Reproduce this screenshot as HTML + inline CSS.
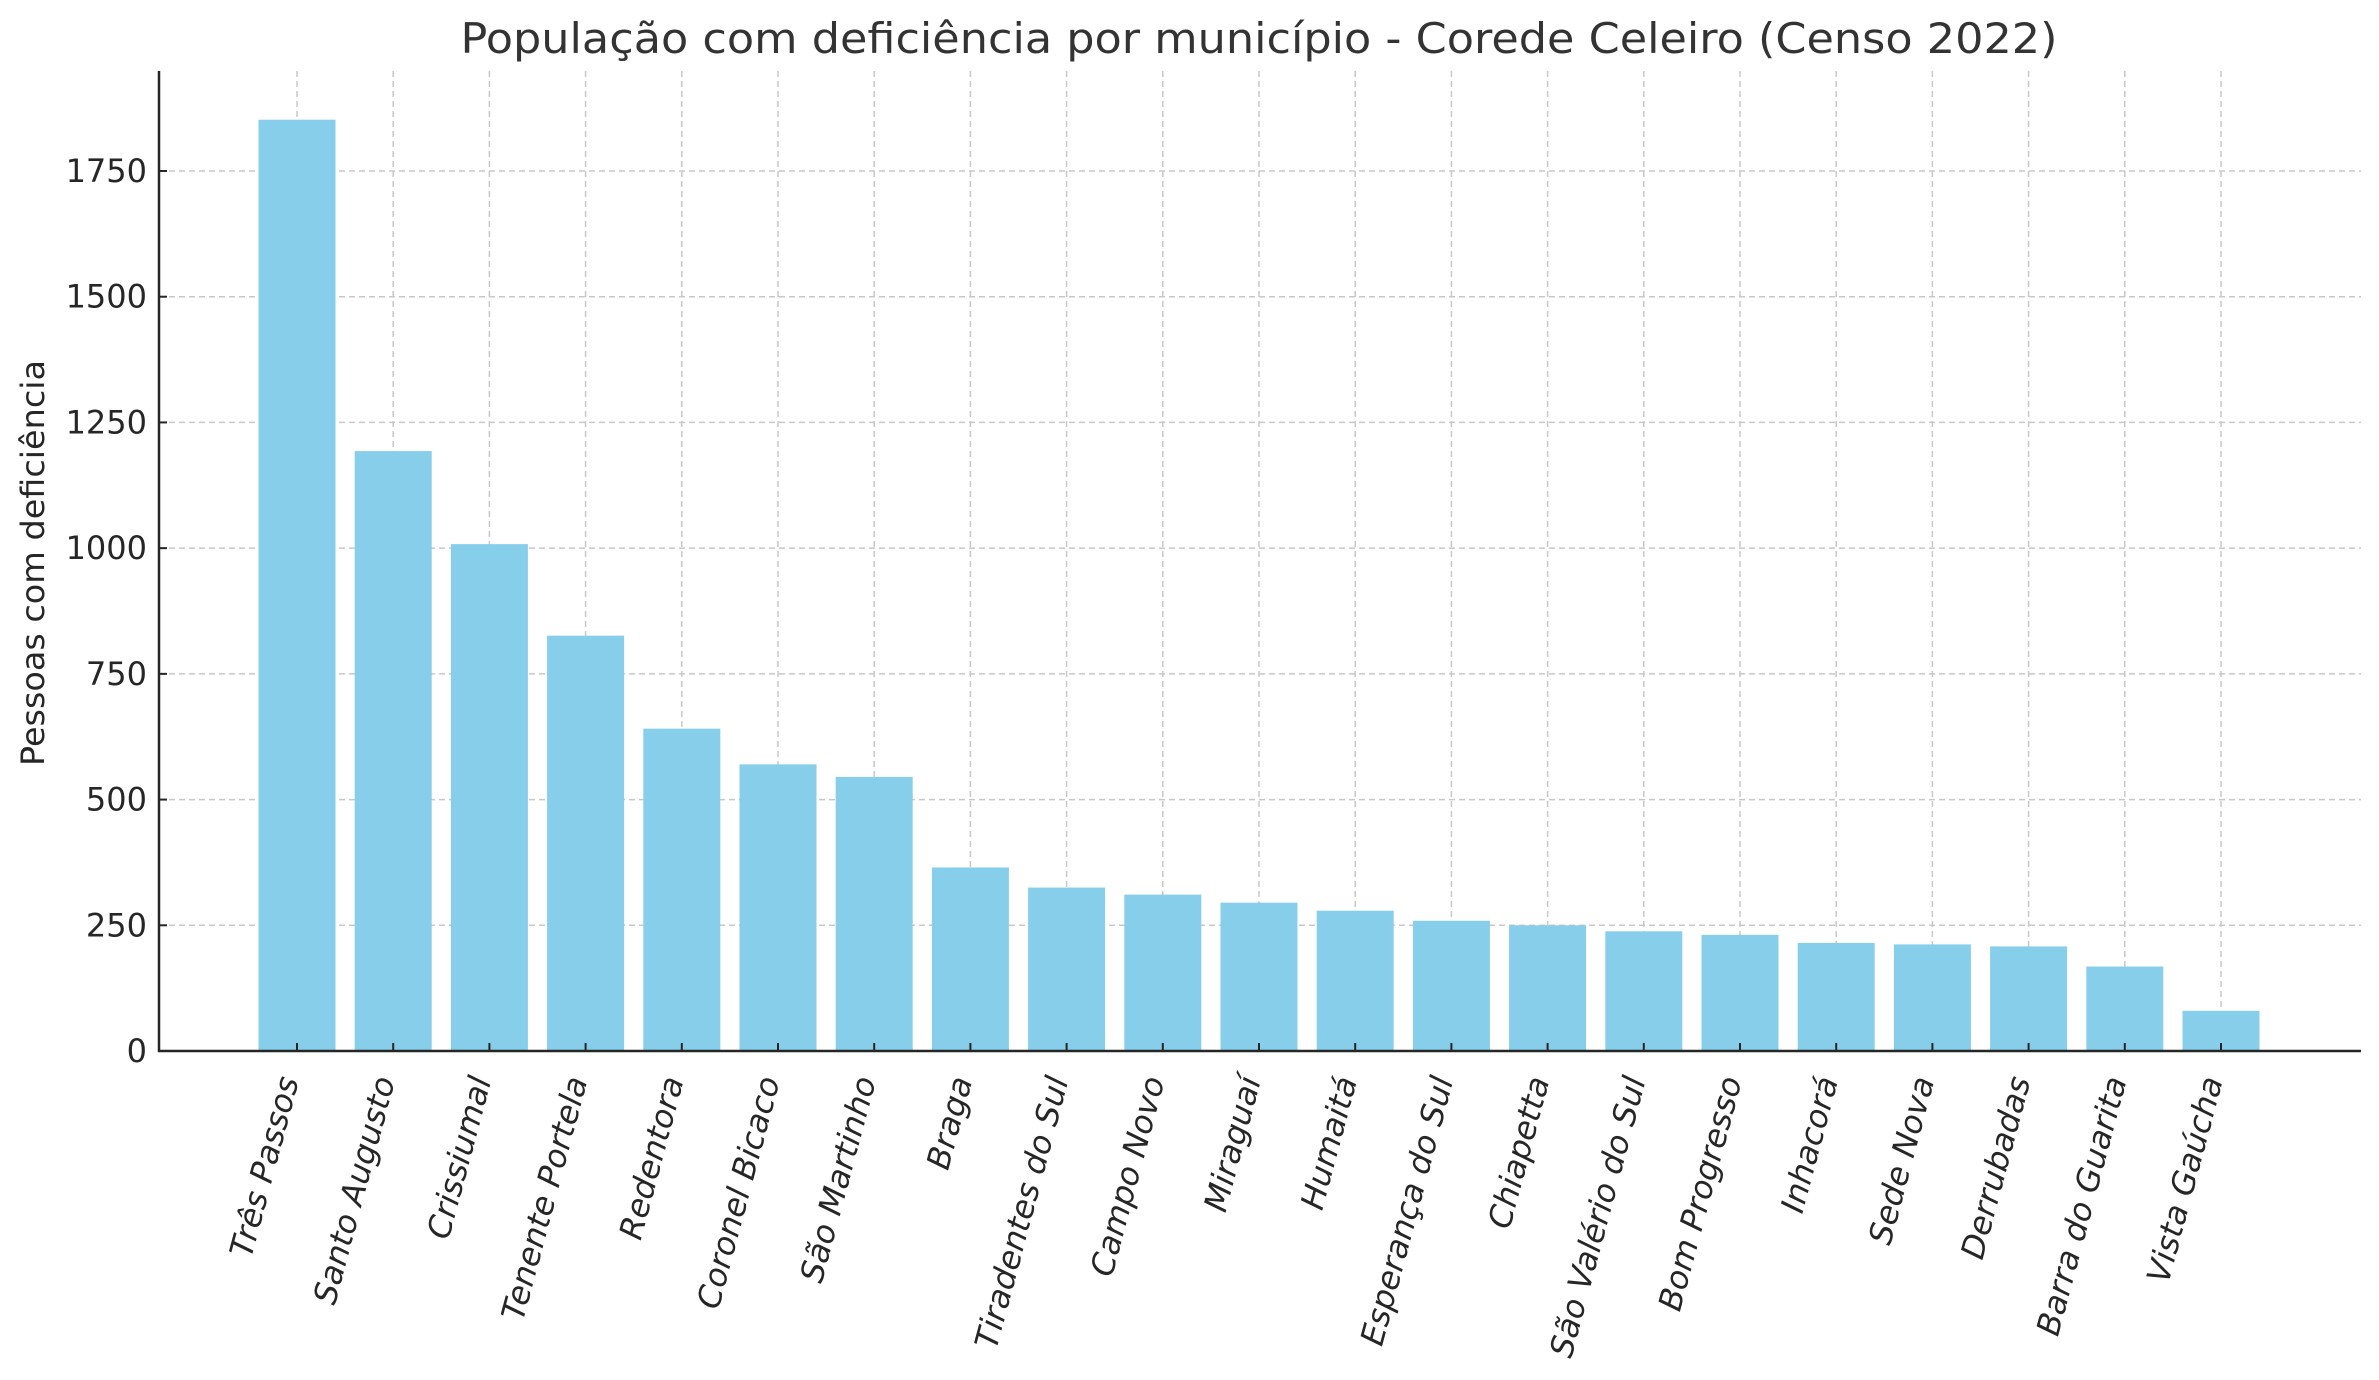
<!DOCTYPE html>
<html><head><meta charset="utf-8"><style>html,body{margin:0;padding:0;background:#fff}svg{display:block}</style></head>
<body>
<svg xmlns="http://www.w3.org/2000/svg" width="2379" height="1380" viewBox="0 0 2379 1380" font-family="DejaVu Sans, Liberation Sans, sans-serif">
<rect width="2379" height="1380" fill="#fff"/>
<g id="grid" stroke="#c8c8c8" stroke-width="1.5" stroke-dasharray="6,4">
</g>
<g id="bars" fill="#87ceeb"></g>
<g id="axes"></g>
<g id="labels" fill="#262626" font-size="32" font-style="italic"></g>
<text x="1259" y="53" text-anchor="middle" font-size="42" fill="#333" textLength="1597" lengthAdjust="spacingAndGlyphs">População com deficiência por município - Corede Celeiro (Censo 2022)</text>
<text transform="translate(44,563) rotate(-90)" text-anchor="middle" font-size="32" fill="#262626" textLength="406" lengthAdjust="spacingAndGlyphs">Pessoas com deficiência</text>
<script>
var ns="http://www.w3.org/2000/svg";
var names=["Três Passos","Santo Augusto","Crissiumal","Tenente Portela","Redentora","Coronel Bicaco","São Martinho","Braga","Tiradentes do Sul","Campo Novo","Miraguaí","Humaitá","Esperança do Sul","Chiapetta","São Valério do Sul","Bom Progresso","Inhacorá","Sede Nova","Derrubadas","Barra do Guarita","Vista Gaúcha"];
var vals=[1852,1193,1008,826,641,570,545,365,325,311,295,279,259,250,238,231,215,212,208,168,80];
var y0=1051,k=(1051-171)/1750,x0=297,dx=96.2;
function el(t,a,p,txt){var e=document.createElementNS(ns,t);for(var i in a)e.setAttribute(i,a[i]);if(txt)e.textContent=txt;p.appendChild(e);return e;}
var g=document.getElementById('grid'),b=document.getElementById('bars'),ax=document.getElementById('axes'),lb=document.getElementById('labels');
for(var v=0;v<=1750;v+=250){var y=y0-v*k;if(v>0)el('line',{x1:159,x2:2361,y1:y,y2:y},g);
el('line',{x1:159,x2:167,y1:y,y2:y,stroke:'#262626','stroke-width':2},ax);
el('text',{x:147,y:y+11,'text-anchor':'end','font-size':'32',fill:'#262626'},ax,String(v));}
for(var i=0;i<21;i++){var x=x0+i*dx;el('line',{x1:x,x2:x,y1:71,y2:1051},g);
var h=vals[i]*k;el('rect',{x:x-38.5,y:y0-h,width:77,height:h},b);
el('line',{x1:x,x2:x,y1:1043,y2:1051,stroke:'#262626','stroke-width':2},ax);
el('text',{transform:'translate('+(x+2)+',1080) rotate(-75)','text-anchor':'end'},lb,names[i]);}
el('line',{x1:159,x2:159,y1:71,y2:1052,stroke:'#262626','stroke-width':2.5},ax);
el('line',{x1:158,x2:2361,y1:1051,y2:1051,stroke:'#262626','stroke-width':2.5},ax);
</script>
</svg>
</body></html>
